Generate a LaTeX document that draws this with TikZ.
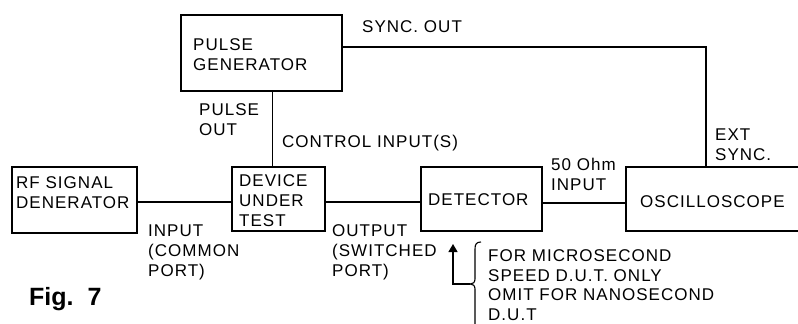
\documentclass[tikz,border=0pt]{standalone}
\usepackage{fontspec}
\setmainfont{Liberation Sans}
\newfontfamily\lblfont[LetterSpace=6]{Liberation Sans}
\usetikzlibrary{arrows.meta,calc}
\begin{document}
\begin{tikzpicture}[x=1pt,y=-1pt,
  box/.style={draw,line width=1.5pt,minimum width=#1,inner sep=0pt},
  lbl/.style={anchor=base west,inner sep=0pt,align=left,font=\lblfont\fontsize{17}{20}\selectfont},
  wire/.style={line width=1.3pt},
  every node/.append style={text=black}]
\useasboundingbox[fill=white] (0,0) rectangle (798,324);
% boxes
\node[box=161pt,minimum height=76pt] (pg) at (261.5,53) {};
\node[box=125pt,minimum height=66pt] (rf) at (74.5,200) {};
\node[box=93pt,minimum height=64pt] (dut) at (278.5,199) {};
\node[box=121pt,minimum height=64pt] (det) at (481.5,199) {};
\node[box=174pt,minimum height=64pt] (osc) at (713,199) {};
% box texts (anchor = baseline of last line)
\node[lbl] (pgt) at (193,70) {PULSE\\GENERATOR};
\node[lbl] (rft) at (16,208) {RF SIGNAL\\DENERATOR};
\node[lbl] (dutt) at (239,226) {DEVICE\\UNDER\\TEST};
\node[lbl] (dett) at (428,205) {DETECTOR};
\node[lbl] (osct) at (640,207) {OSCILLOSCOPE};
% labels
\node[lbl] (sync) at (362,32) {SYNC. OUT};
\node[lbl] (pout) at (199,135) {PULSE\\OUT};
\node[lbl] (ctrl) at (282,147) {CONTROL INPUT(S)};
\node[lbl] (ext) at (715,160) {EXT\\SYNC.};
\node[lbl] (ohm) at (551,190) {50 Ohm\\INPUT};
\node[lbl] (inp) at (148,276) {INPUT\\(COMMON\\PORT)};
\node[lbl] (outp) at (332,276) {OUTPUT\\(SWITCHED\\PORT)};
\node[lbl,font=\lblfont\fontsize{17}{19.5}\selectfont] (note) at (488,320) {FOR MICROSECOND\\SPEED D.U.T. ONLY\\OMIT FOR NANOSECOND\\D.U.T};
\node[anchor=base west,inner sep=0pt,font=\fontsize{25}{30}\selectfont\bfseries] (fig) at (29,305) {Fig.~~7};
% connectors
\coordinate (dutin) at ($(dut.north west)!0.435!(dut.north east)$);
\coordinate (oscin) at ($(osc.north west)!0.46!(osc.north east)$);
\draw[wire] (pg.south -| dutin) -- (dutin);
\draw[wire] ([yshift=6pt]pg.east) -| (oscin);
\draw[wire] ([yshift=-2pt]rf.east) -- ([yshift=-2pt]rf.east -| dut.west);
\draw[wire] ([yshift=-3pt]dut.east) -- ([yshift=-3pt]dut.east -| det.west);
\draw[wire] ([yshift=-4pt]det.east) -- ([yshift=-4pt]det.east -| osc.west);
% arrow and brace
\coordinate (bracetip) at (470,284);
\coordinate (armfoot) at (453,284);
\coordinate (armtip) at (453,244);
\draw[wire,-{Triangle[length=8pt,width=9pt]}] (bracetip) -- (armfoot) -- (armtip);
\draw[line width=1.1pt] (481,242) .. controls (476.5,242) and (475,244) .. (475,249) -- (475,279)
  .. controls (475,282.5) and (473,284) .. (bracetip)
  .. controls (473,284) and (475,285.5) .. (475,289) -- (475,326);
\end{tikzpicture}
\end{document}
